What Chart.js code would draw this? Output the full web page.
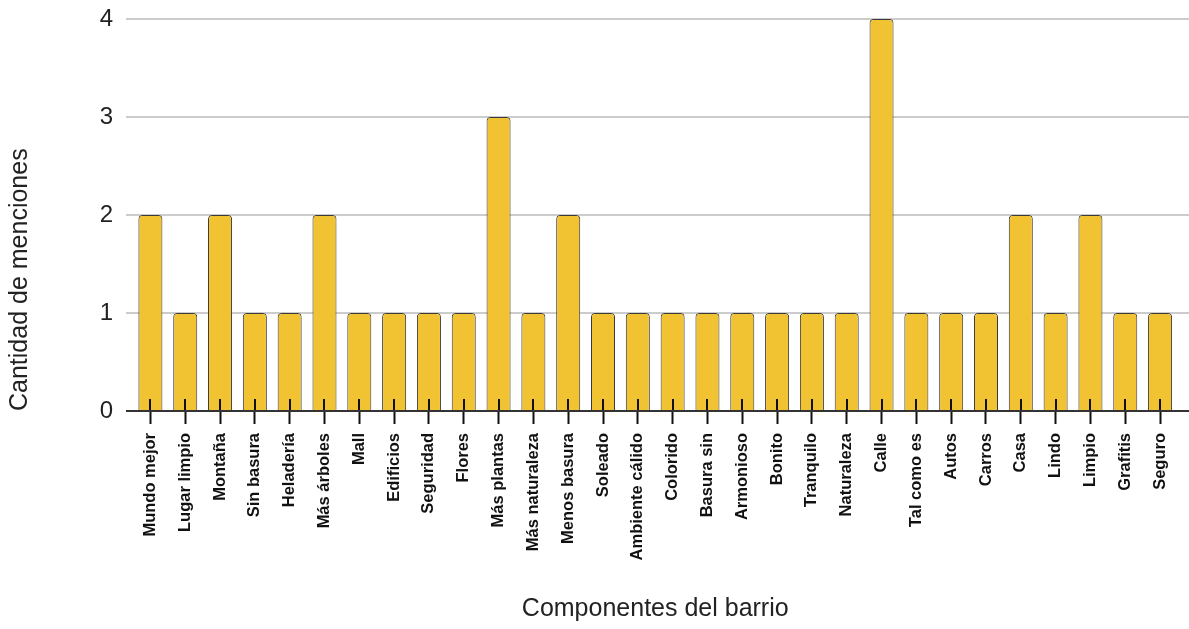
<!DOCTYPE html>
<html>
<head>
<meta charset="utf-8">
<script src="https://cdn.jsdelivr.net/npm/chart.js@4/dist/chart.umd.min.js"></script>
<style>
  html, body { margin: 0; padding: 0; background: #fff; }
  #wrap { width: 1189px; height: 629px; position: relative; }
</style>
</head>
<body>
<div id="wrap"><canvas id="chart"></canvas></div>
<script>
// --- Données ---
const categories = [
  "Mundo mejor", "Lugar limpio", "Montaña", "Sin basura", "Heladería",
  "Más árboles", "Mall", "Edificios", "Seguridad", "Flores",
  "Más plantas", "Más naturaleza", "Menos basura", "Soleado", "Ambiente cálido",
  "Colorido", "Basura sin", "Armonioso", "Bonito", "Tranquilo",
  "Naturaleza", "Calle", "Tal como es", "Autos", "Carros",
  "Casa", "Lindo", "Limpio", "Grafitis", "Seguro"
];
const menciones = [2, 1, 2, 1, 1, 2, 1, 1, 1, 1, 3, 1, 2, 1, 1, 1, 1, 1, 1, 1, 1, 4, 1, 1, 1, 2, 1, 2, 1, 1];
const yTicks = [0, 1, 2, 3, 4];

const xTitle = "Componentes del barrio";
const yTitle = "Cantidad de menciones";

const FONT = "'Liberation Sans', Arial, Helvetica, sans-serif";

// --- Lignes de grille + axe, prolongées comme dans l'original ---
const axisDecor = {
  id: 'axisDecor',
  beforeDatasetsDraw(chart) {
    const { ctx, chartArea, scales: { y } } = chart;
    ctx.save();
    ctx.strokeStyle = '#cccccc';
    ctx.lineWidth = 2;
    yTicks.forEach(v => {
      if (v === 0) return;
      const py = Math.round(y.getPixelForValue(v));
      ctx.beginPath();
      ctx.moveTo(chartArea.left - 7, py);
      ctx.lineTo(chart.width, py);
      ctx.stroke();
    });
    ctx.restore();
  },
  afterDatasetsDraw(chart) {
    const { ctx, chartArea, scales: { x, y } } = chart;
    const py = Math.round(y.getPixelForValue(0));
    ctx.save();
    // petits traits au-dessus de l'axe
    ctx.strokeStyle = '#111';
    ctx.lineWidth = 2;
    categories.forEach((c, i) => {
      const px = Math.round(x.getPixelForValue(i));
      ctx.beginPath();
      ctx.moveTo(px, py - 12);
      ctx.lineTo(px, py);
      ctx.stroke();
    });
    // ligne de base
    ctx.strokeStyle = '#333';
    ctx.beginPath();
    ctx.moveTo(chartArea.left - 7, py);
    ctx.lineTo(chart.width, py);
    ctx.stroke();
    ctx.restore();
  }
};

new Chart(document.getElementById('chart'), {
  type: 'bar',
  data: {
    labels: categories,
    datasets: [{
      data: menciones,
      backgroundColor: '#F1C232',
      borderColor: '#3a3a3a',
      borderWidth: 1,
      borderRadius: 4,
      borderSkipped: 'start',
      barPercentage: 0.69,
      categoryPercentage: 1
    }]
  },
  options: {
    responsive: true,
    maintainAspectRatio: false,
    animation: false,
    layout: { padding: { top: 19, right: 8, bottom: 0, left: 0 } },
    plugins: {
      legend: { display: false },
      tooltip: { enabled: false }
    },
    scales: {
      x: {
        offset: true,
        grid: {
          display: true,
          drawOnChartArea: false,
          offset: false,
          tickLength: 13,
          tickColor: '#111',
          tickWidth: 2
        },
        border: { display: false },
        ticks: {
          autoSkip: false,
          minRotation: 90,
          maxRotation: 90,
          padding: 9,
          color: '#111',
          font: { family: FONT, size: 16.5, weight: 'bold' }
        },
        title: {
          display: true,
          text: xTitle,
          color: '#222',
          padding: { top: 0, bottom: 5 },
          font: { family: FONT, size: 25 }
        },
        afterFit(scale) { scale.height = 218; }
      },
      y: {
        min: 0,
        max: 4,
        grid: { display: false, drawTicks: false },
        border: { display: false },
        afterBuildTicks(scale) { scale.ticks = yTicks.map(v => ({ value: v })); },
        ticks: {
          padding: 20,
          color: '#222',
          font: { family: FONT, size: 24 }
        },
        title: {
          display: true,
          text: yTitle,
          align: 'start',
          color: '#222',
          padding: { top: 5, bottom: 0 },
          font: { family: FONT, size: 25 }
        },
        afterFit(scale) {
          scale.width = 133;
          scale.paddingTop = 0;
          scale.paddingBottom = 0;
        }
      }
    }
  },
  plugins: [axisDecor]
});
</script>
</body>
</html>
